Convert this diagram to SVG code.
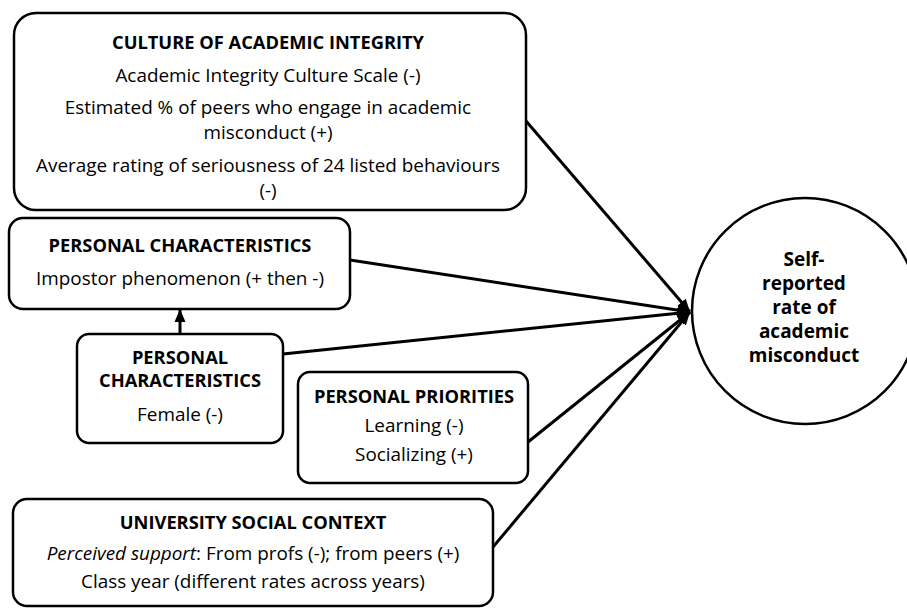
<svg xmlns="http://www.w3.org/2000/svg" width="907" height="609" viewBox="0 0 907 609">
  <style>
    .box { fill: #fff; stroke: #000; stroke-width: 2.5; }
    .head { font-family: "Open Sans", "Noto Sans", sans-serif; font-weight: bold; font-size: 18.3px; fill: #000; text-anchor: middle; }
    .item { font-family: "Open Sans", "Noto Sans", sans-serif; font-size: 18.9px; fill: #000; text-anchor: middle; }
    .big { font-size: 19px; }
    .edge { stroke: #000; stroke-width: 3; fill: none; }
  </style>
  <defs>
    <marker id="arrow" markerUnits="userSpaceOnUse" markerWidth="14" markerHeight="12" refX="13" refY="6" orient="auto">
      <path d="M0,0.5 L13,6 L0,11.5 z" fill="#000"/>
    </marker>
  </defs>
  <rect width="907" height="609" fill="#fff"/>

  <!-- connectors -->
  <g id="connectors">
    <line class="edge" x1="526" y1="121" x2="690" y2="312" marker-end="url(#arrow)"/>
    <line class="edge" x1="350" y1="260" x2="690" y2="312" marker-end="url(#arrow)"/>
    <line class="edge" x1="283" y1="354" x2="690" y2="312" marker-end="url(#arrow)"/>
    <line class="edge" x1="528" y1="442" x2="690" y2="312" marker-end="url(#arrow)"/>
    <line class="edge" x1="493" y1="547" x2="690" y2="312" marker-end="url(#arrow)"/>
    <line class="edge" x1="180" y1="334" x2="180" y2="309" marker-end="url(#arrow)"/>
  </g>

  <!-- culture of academic integrity -->
  <g id="culture">
    <rect class="box" x="14" y="13" width="512" height="197" rx="22"/>
    <text class="head" x="268" y="49">CULTURE OF ACADEMIC INTEGRITY</text>
    <text class="item" x="268" y="82">Academic Integrity Culture Scale (-)</text>
    <text class="item" x="268" y="114">Estimated % of peers who engage in academic</text>
    <text class="item" x="268" y="139">misconduct (+)</text>
    <text class="item" x="268" y="172">Average rating of seriousness of 24 listed behaviours</text>
    <text class="item" x="268" y="197">(-)</text>
  </g>

  <!-- personal characteristics: impostor phenomenon -->
  <g id="impostor">
    <rect class="box" x="9" y="218" width="341" height="91" rx="14"/>
    <text class="head" x="180" y="252">PERSONAL CHARACTERISTICS</text>
    <text class="item" x="180" y="285">Impostor phenomenon (+ then -)</text>
  </g>

  <!-- personal characteristics: gender -->
  <g id="female">
    <rect class="box" x="77" y="334" width="206" height="109" rx="12"/>
    <text class="head" x="180" y="364">PERSONAL</text>
    <text class="head" x="180" y="387">CHARACTERISTICS</text>
    <text class="item" x="180" y="421">Female (-)</text>
  </g>

  <!-- personal priorities -->
  <g id="priorities">
    <rect class="box" x="298" y="372" width="230" height="111" rx="12"/>
    <text class="head" x="414" y="403">PERSONAL PRIORITIES</text>
    <text class="item" x="414" y="432">Learning (-)</text>
    <text class="item" x="414" y="461">Socializing (+)</text>
  </g>

  <!-- university social context -->
  <g id="university">
    <rect class="box" x="13" y="499" width="480" height="107" rx="14"/>
    <text class="head" x="253" y="529">UNIVERSITY SOCIAL CONTEXT</text>
    <text class="item" x="253" y="560"><tspan font-style="italic">Perceived support</tspan>: From profs (-); from peers (+)</text>
    <text class="item" x="253" y="588">Class year (different rates across years)</text>
  </g>

  <!-- outcome -->
  <g id="outcome">
    <circle class="box" cx="805" cy="311" r="113"/>
    <text class="head big" x="804" y="266">Self-</text>
    <text class="head big" x="804" y="290">reported</text>
    <text class="head big" x="804" y="314">rate of</text>
    <text class="head big" x="804" y="338">academic</text>
    <text class="head big" x="804" y="362">misconduct</text>
  </g>
</svg>
